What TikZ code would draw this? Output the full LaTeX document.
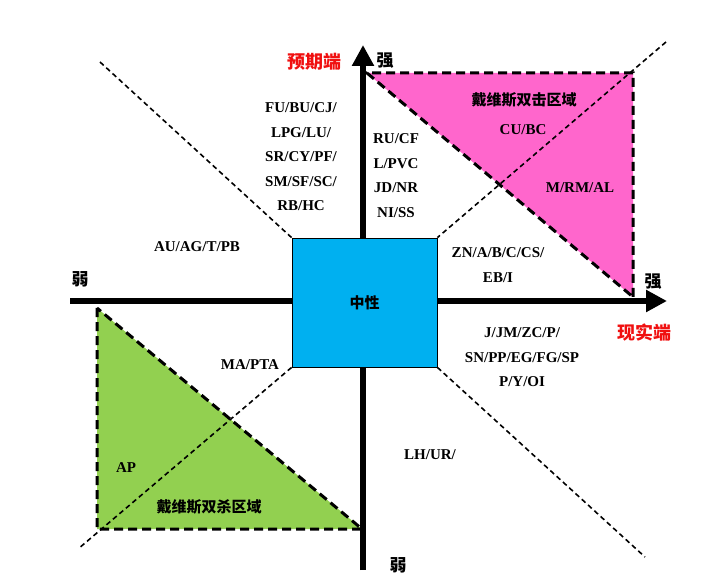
\documentclass[tikz,border=0pt]{standalone}
\usepackage{fontspec}
\setmainfont{Liberation Serif}
\newfontfamily\cjk{Noto Sans CJK SC}
\usetikzlibrary{arrows.meta}
\definecolor{boxblue}{HTML}{00B0F0}
\definecolor{pinkz}{HTML}{FF66CC}
\definecolor{greenz}{HTML}{92D050}
\definecolor{redlab}{HTML}{F01010}
\tikzset{
  axisline/.style={line width=6.5pt,-{Triangle[length=21pt,width=21pt]}},
  axisplain/.style={line width=6.5pt},
  thindash/.style={line width=1.6pt,dash pattern=on 5pt off 3.5pt},
  thickdash/.style={line width=3pt,dash pattern=on 9pt off 5pt},
  lab/.style={font=\fontsize{15}{24.5}\selectfont\bfseries,align=center,inner sep=0pt},
  cjklab/.style={font=\cjk\fontsize{15}{18}\selectfont\bfseries,inner sep=0pt},
  redcjk/.style={font=\cjk\fontsize{18}{20}\selectfont\bfseries,text=redlab,inner sep=0pt},
}
\begin{document}
\begin{tikzpicture}[x=1pt,y=-1pt]
\useasboundingbox (0,0) rectangle (720,577);
% coordinates
\coordinate (vbot) at (363,570);
\coordinate (vtop) at (363,45);
\coordinate (hleft) at (70,301);
\coordinate (hright) at (667,301);
\coordinate (tl) at (100,62);
\coordinate (tr) at (666,42);
\coordinate (bl) at (78,549);
\coordinate (br) at (645,557);
% triangles
\fill[pinkz] (367,73) -- (633,73) -- (633,297) -- cycle;
\fill[greenz] (97,308) -- (97,529) -- (362,529) -- cycle;
% axes
\draw[axisline] (vbot) -- (vtop);
\draw[axisline] (hleft) -- (hright);
% triangle borders
\draw[thickdash] (633,297) -- (633,73) -- (367,73) -- (633,297);
\draw[thickdash] (97,308) -- (97,529) -- (362,529) -- cycle;
% neutral box
\node[draw=black,line width=0.8pt,fill=boxblue,minimum width=145pt,minimum height=129pt,inner sep=0pt,
      font=\cjk\fontsize{15}{18}\selectfont\bfseries] (box) at (364.5,302.5) {中性};
% diagonals
\draw[thindash] (tl) -- (box.north west);
\draw[thindash] (box.south east) -- (br);
\draw[thindash] (tr) -- (box.north east);
\draw[thindash] (box.south west) -- (bl);
% labels
\node[redcjk] (yq) at (314,62) {预期端};
\node[redcjk] (xs) at (644,333) {现实端};
\node[cjklab,font=\cjk\fontsize{17}{18}\selectfont\bfseries] (qtop) at (385,61) {强};
\node[cjklab,font=\cjk\fontsize{17}{18}\selectfont\bfseries] (qright) at (653,282) {强};
\node[cjklab,font=\cjk\fontsize{17}{18}\selectfont\bfseries] (rleft) at (80,279) {弱};
\node[cjklab,font=\cjk\fontsize{17}{18}\selectfont\bfseries] (rbot) at (398,565) {弱};
\node[lab] (g1) at (301,157) {FU/BU/CJ/\\LPG/LU/\\SR/CY/PF/\\SM/SF/SC/\\RB/HC};
\node[lab] (g2) at (396,175.5) {RU/CF\\L/PVC\\JD/NR\\NI/SS};
\node[cjklab] (dsj) at (524,100) {戴维斯双击区域};
\node[lab] (cu) at (523,130) {CU/BC};
\node[lab] (m) at (580,188) {M/RM/AL};
\node[lab] (zn) at (498,265) {ZN/A/B/C/CS/\\EB/I};
\node[lab] (au) at (197,247) {AU/AG/T/PB};
\node[lab] (ma) at (250,365) {MA/PTA};
\node[lab] (jj) at (522,357.5) {J/JM/ZC/P/\\SN/PP/EG/FG/SP\\P/Y/OI};
\node[lab] (lh) at (430,455) {LH/UR/};
\node[lab] (ap) at (126,468) {AP};
\node[cjklab] (dss) at (209,507) {戴维斯双杀区域};
\end{tikzpicture}
\end{document}
